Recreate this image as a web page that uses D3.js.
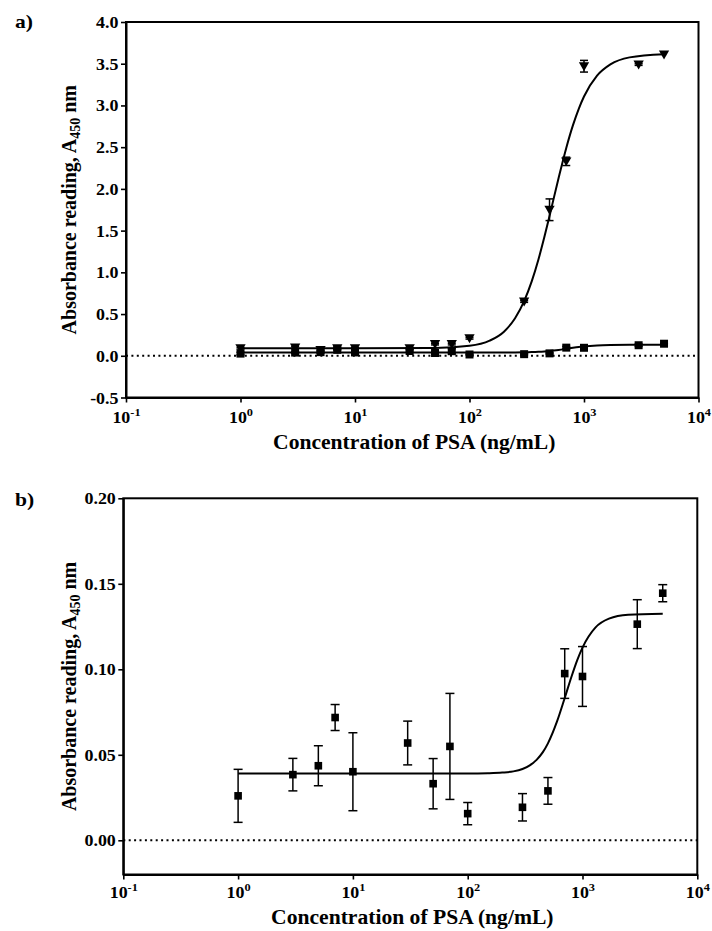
<!DOCTYPE html>
<html><head><meta charset="utf-8">
<script src="https://cdn.jsdelivr.net/npm/d3@7"></script>
<style>
body{margin:0;background:#fff}
text{font-family:"Liberation Serif","Times New Roman",serif;font-weight:bold;fill:#000}
</style>
</head><body>
<svg id="c" width="712" height="931"></svg>
<script>
// ---- data ----
const concentrations = [1, 3, 5, 7, 10, 30, 50, 70, 100, 300, 500, 700, 1000, 3000, 5000];
const triangleMeans  = [0.09, 0.10, 0.07, 0.09, 0.09, 0.09, 0.14, 0.14, 0.21, 0.65, 1.75, 2.33, 3.47, 3.49, 3.61];
const triangleErrors = [0.01, 0.01, 0.01, 0.01, 0.01, 0.01, 0.01, 0.01, 0.01, 0.01, 0.13, 0.05, 0.07, 0.01, 0.0];
const squareMeans    = [0.026, 0.0384, 0.0436, 0.0718, 0.0401, 0.0569, 0.0331, 0.0549, 0.0156, 0.0193, 0.0289, 0.0975, 0.0958, 0.1264, 0.1445];
const squareErrors   = [0.0155, 0.0095, 0.0117, 0.0076, 0.0228, 0.0128, 0.0147, 0.031, 0.0065, 0.008, 0.0078, 0.0145, 0.0175, 0.0143, 0.005];
// fitted sigmoid curves
const fitConcentrations = [1, 10, 50, 100, 150, 200, 250, 300, 350, 400, 450, 500, 600, 700, 800, 900, 1000, 1300, 1700, 2500, 5000];
const triangleFit = [0.090, 0.090, 0.094, 0.119, 0.181, 0.289, 0.449, 0.654, 0.894, 1.154, 1.419, 1.676, 2.130, 2.491, 2.761, 2.960, 3.107, 3.357, 3.492, 3.576, 3.614];
const squareFit   = [0.039, 0.039, 0.039, 0.039, 0.0392, 0.0396, 0.0403, 0.0417, 0.0440, 0.0472, 0.0514, 0.0567, 0.0695, 0.0832, 0.0955, 0.1054, 0.1127, 0.1245, 0.1296, 0.1319, 0.1325];
const xTickValues = [0.1, 1, 10, 100, 1000, 10000];
const xTickExponents = ["-1", "0", "1", "2", "3", "4"];
const yTicksA = [-0.5, 0, 0.5, 1, 1.5, 2, 2.5, 3, 3.5, 4];
const yTicksB = [0, 0.05, 0.10, 0.15, 0.20];
const xTitle = "Concentration of PSA (ng/mL)";
const yTitleMain = "Absorbance reading, A";
const yTitleSub = "450";
const yTitleEnd = " nm";

// ---- drawing ----
const svg = d3.select("#c");
const SX_TICK = 1.12, SX_TITLE = 1.08, SX_LABEL = 1.2;

function panel(o) {
  const g = svg.append("g");
  const x = d3.scaleLog().domain([0.1, 10000]).range(o.xr);
  const y = d3.scaleLinear().domain(o.yd).range(o.yr);
  const fmt = d3.format(o.fmt);

  // frame
  g.append("rect").attr("x", o.xr[0]).attr("y", o.yr[1]).attr("width", o.xr[1] - o.xr[0])
    .attr("height", o.yr[0] - o.yr[1]).attr("fill", "none").attr("stroke", "#000").attr("stroke-width", 2);

  // y axis
  const ya = g.append("g").attr("transform", `translate(${o.xr[0]},0)`)
    .call(d3.axisLeft(y).tickValues(o.yTicks).tickFormat(v => fmt(v).replace("\u2212", "-")).tickSize(5).tickSizeOuter(0).tickPadding(3));
  ya.attr("font-family", null).attr("font-size", null);
  ya.select(".domain").attr("stroke-width", 2);
  ya.selectAll(".tick line").attr("stroke-width", 1.6);
  ya.selectAll(".tick text").attr("font-size", 16).attr("x", null).attr("dy", null)
    .attr("transform", `translate(-7.5,5.5) scale(${SX_TICK},1)`);

  // x axis
  const xa = g.append("g").attr("transform", `translate(0,${o.yr[0]})`)
    .call(d3.axisBottom(x).tickValues(xTickValues).tickFormat("").tickSize(5).tickSizeOuter(0));
  xa.attr("font-family", null).attr("font-size", null);
  xa.select(".domain").attr("stroke-width", 2);
  xa.selectAll(".tick line").attr("stroke-width", 1.6);
  xa.selectAll(".tick").each(function (d, i) {
    const t = d3.select(this).append("text").attr("text-anchor", "middle").attr("font-size", 16)
      .attr("fill", "#000").attr("transform", `translate(0,${o.xLabelDy}) scale(${SX_TICK},1)`);
    t.append("tspan").text("10");
    t.append("tspan").attr("font-size", 11).attr("dy", -6.5).text(xTickExponents[i]);
  });

  // dotted zero line
  g.append("line").attr("x1", o.xr[0]).attr("x2", o.xr[1]).attr("y1", y(0)).attr("y2", y(0))
    .attr("stroke", "#000").attr("stroke-width", 2).attr("stroke-dasharray", "2,3.4");

  // titles
  g.append("text").attr("text-anchor", "middle").attr("font-size", 20)
    .attr("transform", `translate(${(o.xr[0] + o.xr[1]) / 2 + 2},${o.xTitleY}) scale(${SX_TITLE},1)`).text(xTitle);
  const yt = g.append("text").attr("text-anchor", "middle").attr("font-size", 20)
    .attr("transform", `translate(${o.yTitleX},${(o.yr[0] + o.yr[1]) / 2}) scale(${SX_TITLE},1) rotate(-90)`);
  yt.append("tspan").text(yTitleMain);
  yt.append("tspan").attr("font-size", 14).attr("dy", 4).text(yTitleSub);
  yt.append("tspan").attr("dy", -4).text(yTitleEnd);

  // panel label
  g.append("text").attr("font-size", 18).attr("transform", `translate(15,${o.labelY}) scale(${SX_LABEL},1)`).text(o.label);

  const line = d3.line().x((d, i) => x(fitConcentrations[i])).y(d => y(d)).curve(d3.curveMonotoneX);

  o.series.forEach(s => {
    g.append("path").datum(s.fit).attr("d", line).attr("fill", "none").attr("stroke", "#000").attr("stroke-width", 2);
    const pts = concentrations.map((c, i) => ({ c, m: s.means[i], e: s.errors[i] }));
    const eb = g.append("g").attr("stroke", "#000").attr("stroke-width", s.ebw);
    pts.filter(p => p.e > 0).forEach(p => {
      const cx = x(p.c), y1 = y(p.m + p.e), y2 = y(p.m - p.e);
      eb.append("line").attr("x1", cx).attr("x2", cx).attr("y1", y1).attr("y2", y2);
      eb.append("line").attr("x1", cx - s.cap).attr("x2", cx + s.cap).attr("y1", y1).attr("y2", y1);
      eb.append("line").attr("x1", cx - s.cap).attr("x2", cx + s.cap).attr("y1", y2).attr("y2", y2);
    });
    g.append("g").selectAll("path").data(pts).join("path")
      .attr("d", d3.symbol().type(s.symbol).size(s.size))
      .attr("transform", p => `translate(${x(p.c)},${y(p.m) + (s.flip ? -1 : 0)})${s.flip ? " rotate(180)" : ""}`)
      .attr("fill", "#000");
  });
}

panel({
  xr: [126, 698.5], yd: [-0.5, 4], yr: [397.5, 22], yTicks: yTicksA, fmt: ".1f",
  xLabelDy: 25, xTitleY: 449, yTitleX: 76, label: "a)", labelY: 28,
  series: [
    { means: triangleMeans, errors: triangleErrors, fit: triangleFit, symbol: d3.symbolTriangle, size: 46, flip: true, cap: 4, ebw: 1.5 },
    { means: squareMeans, errors: squareErrors, fit: squareFit, symbol: d3.symbolSquare, size: 64, flip: false, cap: 4, ebw: 1.5 }
  ]
});

panel({
  xr: [123.3, 697.3], yd: [-0.02, 0.2], yr: [874.5, 498.3], yTicks: yTicksB, fmt: ".2f",
  xLabelDy: 23, xTitleY: 924, yTitleX: 76, label: "b)", labelY: 506,
  series: [
    { means: squareMeans, errors: squareErrors, fit: squareFit, symbol: d3.symbolSquare, size: 58, flip: false, cap: 4.5, ebw: 1.5 }
  ]
});
</script>
</body></html>
